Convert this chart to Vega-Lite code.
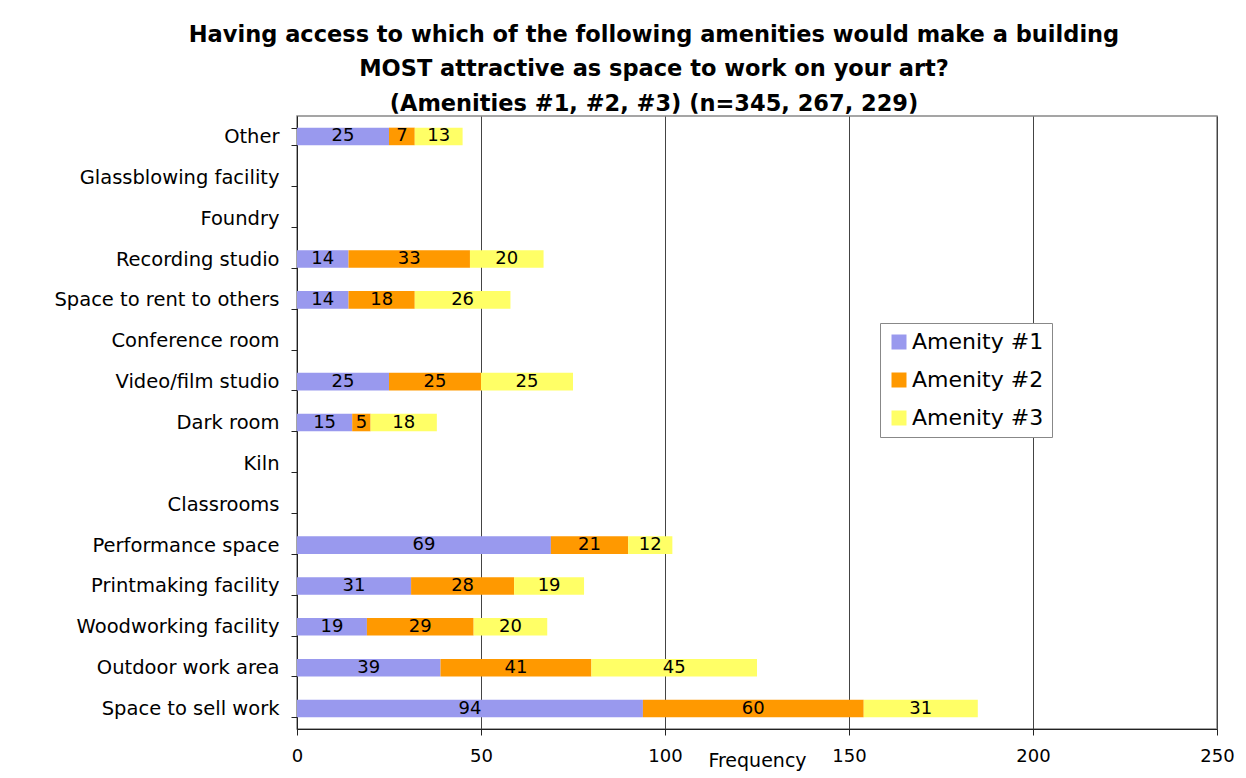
{
  "$schema": "https://vega.github.io/schema/vega-lite/v6.json",
  "width": 920,
  "height": 613,
  "autosize": {"type": "none"},
  "padding": {"left": 297, "top": 116, "right": 29, "bottom": 49},
  "background": "white",
  "title": {
    "text": ["Having access to which of the following amenities would make a building", "MOST attractive as space to work on your art?", "(Amenities #1, #2, #3) (n=345, 267, 229)"],
    "font": "DejaVu Sans",
    "fontSize": 22.5,
    "fontWeight": "bold",
    "color": "black",
    "anchor": "middle",
    "dx": -103,
    "lineHeight": 34.5,
    "offset": -9
  },
  "data": {
    "values": [
      {"category": "Other", "series": "Amenity #1", "value": 25},
      {"category": "Other", "series": "Amenity #2", "value": 7},
      {"category": "Other", "series": "Amenity #3", "value": 13},
      {"category": "Recording studio", "series": "Amenity #1", "value": 14},
      {"category": "Recording studio", "series": "Amenity #2", "value": 33},
      {"category": "Recording studio", "series": "Amenity #3", "value": 20},
      {"category": "Space to rent to others", "series": "Amenity #1", "value": 14},
      {"category": "Space to rent to others", "series": "Amenity #2", "value": 18},
      {"category": "Space to rent to others", "series": "Amenity #3", "value": 26},
      {"category": "Video/film studio", "series": "Amenity #1", "value": 25},
      {"category": "Video/film studio", "series": "Amenity #2", "value": 25},
      {"category": "Video/film studio", "series": "Amenity #3", "value": 25},
      {"category": "Dark room", "series": "Amenity #1", "value": 15},
      {"category": "Dark room", "series": "Amenity #2", "value": 5},
      {"category": "Dark room", "series": "Amenity #3", "value": 18},
      {"category": "Performance space", "series": "Amenity #1", "value": 69},
      {"category": "Performance space", "series": "Amenity #2", "value": 21},
      {"category": "Performance space", "series": "Amenity #3", "value": 12},
      {"category": "Printmaking facility", "series": "Amenity #1", "value": 31},
      {"category": "Printmaking facility", "series": "Amenity #2", "value": 28},
      {"category": "Printmaking facility", "series": "Amenity #3", "value": 19},
      {"category": "Woodworking facility", "series": "Amenity #1", "value": 19},
      {"category": "Woodworking facility", "series": "Amenity #2", "value": 29},
      {"category": "Woodworking facility", "series": "Amenity #3", "value": 20},
      {"category": "Outdoor work area", "series": "Amenity #1", "value": 39},
      {"category": "Outdoor work area", "series": "Amenity #2", "value": 41},
      {"category": "Outdoor work area", "series": "Amenity #3", "value": 45},
      {"category": "Space to sell work", "series": "Amenity #1", "value": 94},
      {"category": "Space to sell work", "series": "Amenity #2", "value": 60},
      {"category": "Space to sell work", "series": "Amenity #3", "value": 31}
    ]
  },
  "transform": [
    {"stack": "value", "groupby": ["category"], "sort": [{"field": "series", "order": "ascending"}], "as": ["v0", "v1"]},
    {"calculate": "(datum.v0 + datum.v1) / 2", "as": "mid"}
  ],
  "encoding": {
    "y": {
      "field": "category",
      "type": "nominal",
      "scale": {
        "domain": ["Other", "Glassblowing facility", "Foundry", "Recording studio", "Space to rent to others", "Conference room", "Video/film studio", "Dark room", "Kiln", "Classrooms", "Performance space", "Printmaking facility", "Woodworking facility", "Outdoor work area", "Space to sell work"],
        "paddingInner": 0.57,
        "paddingOuter": 0.285
      },
      "axis": {
        "title": null,
        "tickBand": "extent",
        "tickSize": 6,
        "labelPadding": 12,
        "labelLimit": 400,
        "labelFont": "DejaVu Sans",
        "labelFontSize": 19.5,
        "labelColor": "black",
        "domainColor": "#222",
        "tickColor": "#222",
        "grid": false
      }
    }
  },
  "layer": [
    {
      "mark": {"type": "bar"},
      "encoding": {
        "x": {
          "field": "v0",
          "type": "quantitative",
          "scale": {"domain": [0, 250], "nice": false},
          "axis": {
            "values": [0, 50, 100, 150, 200, 250],
            "title": "Frequency",
            "titleFont": "DejaVu Sans",
            "titleFontSize": 19,
            "titleFontWeight": "normal",
            "titleColor": "black",
            "titleBaseline": "top",
            "titleY": 22,
            "grid": true,
            "gridColor": "#444",
            "gridOpacity": 1,
            "tickSize": 6,
            "labelPadding": 12,
            "labelFont": "DejaVu Sans",
            "labelFontSize": 18,
            "labelColor": "black",
            "domainColor": "#222",
            "tickColor": "#222",
            "labelFlush": false
          }
        },
        "x2": {"field": "v1"},
        "color": {
          "field": "series",
          "type": "nominal",
          "scale": {"domain": ["Amenity #1", "Amenity #2", "Amenity #3"], "range": ["#9999EE", "#FF9900", "#FFFF66"]},
          "legend": {
            "title": null,
            "orient": "none",
            "legendX": 583,
            "legendY": 207,
            "symbolType": "square",
            "symbolSize": 225,
            "symbolStrokeWidth": 0,
            "labelFont": "DejaVu Sans",
            "labelFontSize": 22,
            "labelColor": "black",
            "labelOffset": 2,
            "strokeColor": "#888",
            "fillColor": "white",
            "padding": 8,
            "rowPadding": 16
          }
        }
      }
    },
    {
      "mark": {"type": "text", "font": "DejaVu Sans", "fontSize": 18, "color": "black", "baseline": "middle", "align": "center"},
      "encoding": {
        "x": {"field": "mid", "type": "quantitative"},
        "text": {"field": "value", "type": "quantitative"}
      }
    }
  ],
  "config": {
    "view": {"stroke": "#888", "strokeWidth": 1.5}
  }
}
